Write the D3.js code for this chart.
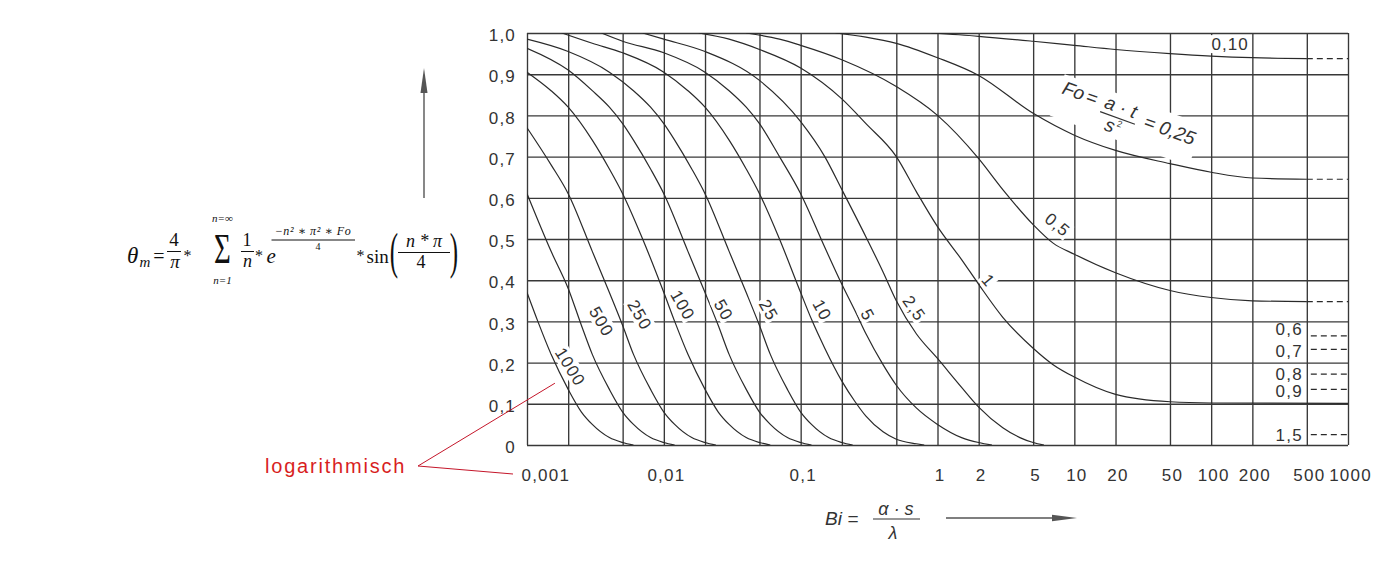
<!DOCTYPE html>
<html>
<head>
<meta charset="utf-8">
<title>Mittlere Temperatur</title>
<script src="https://cdn.jsdelivr.net/npm/d3@7/dist/d3.min.js"></script>
<style>
  body { margin: 0; background: #fff; }
  .lbl text { font-family: "Liberation Sans", Arial, sans-serif; font-size: 17px; fill: #333; letter-spacing: 1.2px; }
</style>
</head>
<body>
<div id="chart"></div>
<script>
const width = 1383;
const height = 572;
const sans = "'Liberation Sans', Arial, sans-serif";
const serif = "'Liberation Serif', 'DejaVu Serif', serif";

// Gitter und Achsenbeschriftung
const gridBi = [0.001, 0.002, 0.005, 0.01, 0.02, 0.05, 0.1, 0.2, 0.5, 1, 2, 5, 10, 20, 50, 100, 200, 500, 1000];
const gridTheta = [0, 0.1, 0.2, 0.3, 0.4, 0.5, 0.6, 0.7, 0.8, 0.9, 1];
const xTickValues = [0.001, 0.01, 0.1, 1, 2, 5, 10, 20, 50, 100, 200, 500, 1000];
const xTickLabels = ["0,001", "0,01", "0,1", "1", "2", "5", "10", "20", "50", "100", "200", "500", "1000"];
const yTickValues = [0, 0.1, 0.2, 0.3, 0.4, 0.5, 0.6, 0.7, 0.8, 0.9, 1];
const yTickLabels = ["0", "0,1", "0,2", "0,3", "0,4", "0,5", "0,6", "0,7", "0,8", "0,9", "1,0"];

// Kurven theta_m(Bi) fuer verschiedene Fo: [Bi, theta]
const curve1000 = [[0.001,0.37],[0.0012,0.30],[0.0015,0.22],[0.002,0.135],[0.0025,0.08],[0.003,0.05],[0.004,0.018],[0.005,0.006],[0.006,0]];
const curve500 = [[0.001,0.61],[0.0015,0.47],[0.002,0.38],[0.0025,0.29],[0.003,0.22],[0.004,0.135],[0.005,0.08],[0.006,0.05],[0.008,0.018],[0.01,0.006],[0.012,0]];
const curve250 = [[0.001,0.77],[0.0015,0.68],[0.002,0.61],[0.003,0.47],[0.004,0.37],[0.005,0.29],[0.006,0.22],[0.008,0.135],[0.01,0.08],[0.012,0.05],[0.016,0.018],[0.02,0.006],[0.024,0]];
const curve100 = [[0.001,0.905],[0.0015,0.86],[0.002,0.82],[0.003,0.74],[0.004,0.67],[0.005,0.61],[0.007,0.50],[0.01,0.37],[0.012,0.30],[0.015,0.22],[0.02,0.135],[0.025,0.08],[0.03,0.05],[0.04,0.018],[0.05,0.006],[0.06,0]];
const curve50 = [[0.001,0.963],[0.002,0.91],[0.003,0.86],[0.004,0.82],[0.005,0.78],[0.006,0.74],[0.008,0.67],[0.01,0.61],[0.015,0.47],[0.02,0.37],[0.025,0.29],[0.03,0.22],[0.04,0.135],[0.05,0.08],[0.06,0.05],[0.08,0.018],[0.1,0.006],[0.12,0]];
const curve25 = [[0.001,0.985],[0.002,0.955],[0.004,0.905],[0.006,0.86],[0.008,0.82],[0.01,0.78],[0.012,0.74],[0.016,0.67],[0.02,0.61],[0.03,0.47],[0.04,0.37],[0.05,0.29],[0.06,0.22],[0.08,0.135],[0.1,0.08],[0.12,0.05],[0.16,0.018],[0.2,0.006],[0.24,0]];
const curve10 = [[0.0018,1.0],[0.003,0.975],[0.005,0.952],[0.01,0.905],[0.015,0.86],[0.02,0.82],[0.03,0.74],[0.04,0.67],[0.05,0.61],[0.07,0.50],[0.1,0.37],[0.12,0.305],[0.15,0.235],[0.2,0.155],[0.25,0.105],[0.3,0.07],[0.4,0.032],[0.5,0.014],[0.7,0.003],[0.8,0]];
const curve5 = [[0.0035,1.0],[0.005,0.98],[0.01,0.952],[0.02,0.905],[0.03,0.86],[0.04,0.82],[0.05,0.78],[0.07,0.70],[0.1,0.61],[0.15,0.48],[0.2,0.39],[0.25,0.325],[0.3,0.27],[0.4,0.195],[0.5,0.145],[0.7,0.09],[1,0.05],[1.5,0.018],[2,0.006],[2.5,0]];
const curve2_5 = [[0.007,1.0],[0.01,0.985],[0.02,0.955],[0.05,0.885],[0.1,0.785],[0.15,0.70],[0.2,0.62],[0.3,0.505],[0.4,0.42],[0.5,0.35],[0.7,0.27],[1,0.21],[1.5,0.14],[2,0.092],[3,0.042],[4,0.018],[5,0.006],[6,0]];
const curve1 = [[0.018,1.0],[0.03,0.985],[0.05,0.96],[0.1,0.915],[0.2,0.84],[0.3,0.78],[0.5,0.70],[0.7,0.615],[1,0.53],[1.5,0.45],[2,0.39],[3,0.31],[5,0.235],[7,0.195],[10,0.165],[20,0.123],[50,0.105],[100,0.102],[1000,0.101]];
const curve0_5 = [[0.04,1.0],[0.07,0.985],[0.1,0.97],[0.2,0.935],[0.5,0.87],[1,0.80],[2,0.695],[3,0.62],[5,0.535],[7,0.49],[10,0.463],[20,0.418],[50,0.375],[100,0.358],[200,0.35],[500,0.348]];
const curve0_25 = [[0.18,1.0],[0.3,0.99],[0.5,0.975],[1,0.94],[2,0.897],[5,0.805],[10,0.752],[20,0.715],[50,0.683],[100,0.662],[200,0.648],[500,0.645]];
const curve0_10 = [[0.9,1.0],[2,0.992],[5,0.98],[10,0.97],[20,0.96],[50,0.95],[100,0.944],[200,0.94],[500,0.938]];

const foNames = ["1000", "500", "250", "100", "50", "25", "10", "5", "2,5", "1", "0,5", "0,25", "0,10"];
const foCurves = [curve1000, curve500, curve250, curve100, curve50, curve25, curve10, curve5, curve2_5, curve1, curve0_5, curve0_25, curve0_10];
// gestrichelte Fortsetzung bis Bi = 1000
const dashedNames = ["0,5", "0,25", "0,10"];

// Lage der Kurvenbeschriftung (null = eigene Beschriftung)
const labelBi = [0.00208, 0.00351, 0.00668, 0.0138, 0.0274, 0.0584, 0.144, 0.31, 0.679, 2.36, 7.55, null, 137.6];
const labelTheta = [0.19, 0.30, 0.316, 0.34, 0.328, 0.328, 0.328, 0.316, 0.332, 0.40, 0.535, null, 0.973];
const labelAngle = [58, 60, 60, 60, 60, 60, 62, 62, 55, 50, 40, null, 0];

// Grenzwerte fuer Bi -> unendlich (nur gestrichelt)
const limitNames = ["0,6", "0,7", "0,8", "0,9", "1,5"];
const limitValues = [0.265, 0.232, 0.172, 0.135, 0.025];
const limitLabelTheta = [0.281, 0.228, 0.172, 0.131, 0.025];

const svg = d3.select("#chart").append("svg")
    .attr("width", width)
    .attr("height", height)
    .style("display", "block");

const x = d3.scaleLog().domain([0.001, 1000]).range([527, 1348]);
const y = d3.scaleLinear().domain([0, 1]).range([445, 33]);
const plotW = x(1000) - x(0.001);
const plotH = y(0) - y(1);
const ink = "#2a2a2a";

// Gitter
svg.append("g")
    .attr("transform", `translate(0,${y(0)})`)
    .call(d3.axisBottom(x).tickValues(gridBi).tickSize(-plotH).tickFormat(""))
    .call(g => g.select(".domain").remove())
    .call(g => g.selectAll("line").attr("stroke", "#383838").attr("stroke-width", 1.35));

svg.append("g")
    .attr("transform", `translate(${x(0.001)},0)`)
    .call(d3.axisLeft(y).tickValues(gridTheta).tickSize(-plotW).tickFormat(""))
    .call(g => g.select(".domain").remove())
    .call(g => g.selectAll("line").attr("stroke", "#383838").attr("stroke-width", 1.35));

// Achsenbeschriftung
svg.append("g")
    .attr("class", "lbl")
    .attr("transform", `translate(0,${y(0)})`)
    .call(d3.axisBottom(x).tickValues(xTickValues).tickSize(0).tickPadding(24)
        .tickFormat((d, i) => xTickLabels[i]))
    .call(g => g.select(".domain").remove())
    .call(g => g.selectAll("text").attr("x", 2))
    .call(g => g.select(".tick text").attr("text-anchor", "start").attr("x", -6));

svg.append("g")
    .attr("class", "lbl")
    .attr("transform", `translate(${x(0.001)},0)`)
    .call(d3.axisLeft(y).tickValues(yTickValues).tickSize(0).tickPadding(11)
        .tickFormat((d, i) => yTickLabels[i]))
    .call(g => g.select(".domain").remove())
    .call(g => g.selectAll("text").attr("dy", "0.45em"));

// Kurven
svg.append("clipPath").attr("id", "plot")
    .append("rect").attr("x", x(0.001)).attr("y", y(1)).attr("width", plotW).attr("height", plotH);

const line = d3.line()
    .x(d => x(d[0]))
    .y(d => y(d[1]))
    .curve(d3.curveMonotoneX);

const curves = svg.append("g").attr("clip-path", "url(#plot)")
    .attr("fill", "none").attr("stroke", ink).attr("stroke-width", 1.2);

curves.selectAll("path.fo")
    .data(foCurves)
    .join("path")
    .attr("class", "fo")
    .attr("d", line);

// gestrichelte Asymptoten
const dashedEnds = dashedNames.map(n => {
    const c = foCurves[foNames.indexOf(n)];
    return c[c.length - 1];
});
curves.selectAll("line.dash")
    .data(dashedEnds)
    .join("line")
    .attr("class", "dash")
    .attr("x1", d => x(d[0])).attr("x2", x(1000))
    .attr("y1", d => y(d[1])).attr("y2", d => y(d[1]))
    .attr("stroke-dasharray", "6,4");

curves.selectAll("line.limit")
    .data(limitValues)
    .join("line")
    .attr("class", "limit")
    .attr("x1", x(500) + 4).attr("x2", x(1000))
    .attr("y1", d => y(d)).attr("y2", d => y(d))
    .attr("stroke-dasharray", "6,4");

svg.append("g")
    .attr("font-family", sans).attr("font-size", 17).attr("fill", "#333")
    .style("letter-spacing", "1.2px")
    .selectAll("text")
    .data(limitLabelTheta)
    .join("text")
    .attr("x", x(500) - 4)
    .attr("y", d => y(d) + 6)
    .attr("text-anchor", "end")
    .text((d, i) => limitNames[i]);

// Kurvenbeschriftungen mit weissem Hintergrund
const labels = svg.append("g")
    .attr("font-family", sans).attr("font-size", 17).attr("fill", "#333");

foNames.forEach((name, i) => {
    if (labelBi[i] == null) return;
    const g = labels.append("g")
        .attr("transform", `translate(${x(labelBi[i])},${y(labelTheta[i])}) rotate(${labelAngle[i]})`);
    const t = g.append("text")
        .attr("text-anchor", "middle")
        .attr("dy", "0.36em")
        .style("letter-spacing", "1px")
        .text(name);
    const b = t.node().getBBox();
    g.insert("rect", "text")
        .attr("x", b.x - 2).attr("y", -9)
        .attr("width", b.width + 3).attr("height", 18)
        .attr("fill", "#fff");
});

// Fo = a*t/s^2 = 0,25
const foG = svg.append("g")
    .attr("transform", `translate(${x(8.0)},${y(0.854)}) rotate(20)`);
const foIn = foG.append("g")
    .attr("font-family", sans).attr("font-size", 19).attr("font-style", "italic").attr("fill", "#333");
foIn.append("text").attr("x", 0).attr("y", 0).text("Fo");
foIn.append("text").attr("x", 25).attr("y", 0).text("=");
foIn.append("text").attr("x", 61).attr("y", -1).attr("text-anchor", "middle").text("a · t");
foIn.append("line").attr("x1", 43).attr("x2", 80).attr("y1", 4).attr("y2", 4)
    .attr("stroke", "#333").attr("stroke-width", 1.2);
foIn.append("text").attr("x", 57).attr("y", 20).attr("text-anchor", "middle").text("s");
foIn.append("text").attr("x", 63).attr("y", 12).attr("font-size", 9).attr("font-style", "normal").text("2");
foIn.append("text").attr("x", 88).attr("y", 4).text("= 0,25");
const fb = foIn.node().getBBox();
foG.insert("rect", "g")
    .attr("x", fb.x - 3).attr("y", fb.y - 1)
    .attr("width", fb.width + 6).attr("height", fb.height + 2)
    .attr("fill", "#fff");

// Pfeile
const arrowColor = "#555";
svg.append("line").attr("x1", 424).attr("x2", 424).attr("y1", 198).attr("y2", 90)
    .attr("stroke", arrowColor).attr("stroke-width", 1.4);
svg.append("path").attr("d", "M424,68 L420.5,93 L427.5,93 Z").attr("fill", arrowColor);
svg.append("line").attr("x1", 946).attr("x2", 1055).attr("y1", 518).attr("y2", 518)
    .attr("stroke", arrowColor).attr("stroke-width", 1.4);
svg.append("path").attr("d", "M1077,518 L1052,514.8 L1052,521.2 Z").attr("fill", arrowColor);

// Bi = alpha*s/lambda
const bi = svg.append("g").attr("font-family", sans).attr("fill", "#333").attr("font-style", "italic");
bi.append("text").attr("x", 825).attr("y", 525).attr("font-size", 19).text("Bi =");
bi.append("text").attr("x", 896).attr("y", 515).attr("font-size", 18).attr("text-anchor", "middle").text("α · s");
bi.append("line").attr("x1", 873).attr("x2", 920).attr("y1", 519).attr("y2", 519)
    .attr("stroke", "#333").attr("stroke-width", 1.1);
bi.append("text").attr("x", 893).attr("y", 539).attr("font-size", 18).attr("text-anchor", "middle").text("λ");

// rote Anmerkung
const red = "#d81e1e";
svg.append("text").attr("x", 265).attr("y", 473)
    .attr("font-family", sans).attr("font-size", 20).attr("fill", red)
    .style("letter-spacing", "1.8px").text("logarithmisch");
svg.append("path")
    .attr("d", `M${x(0.0016)},${y(0.15)} L418,466 L${x(0.001) - 14},474`)
    .attr("fill", "none").attr("stroke", "#c4162a").attr("stroke-width", 1);

// Formel
const f = svg.append("g").attr("font-family", serif).attr("fill", "#111");
function mt(px, py, s, size, italic, anchor) {
    return f.append("text").attr("x", px).attr("y", py)
        .attr("font-size", size)
        .attr("font-style", italic ? "italic" : "normal")
        .attr("text-anchor", anchor || "middle")
        .text(s);
}
function bar(x1, x2, py) {
    f.append("line").attr("x1", x1).attr("x2", x2).attr("y1", py).attr("y2", py)
        .attr("stroke", "#111").attr("stroke-width", 1);
}
mt(127, 263, "θ", 23, true, "start");
mt(139.5, 267, "m", 15, true, "start");
mt(159, 263, "=", 20, false);
mt(174, 246, "4", 19, false);
bar(167, 181, 251.5);
mt(175, 268, "π", 19, true);
mt(187.5, 261, "*", 16, false);
mt(222.5, 222, "n=∞", 11, true);
f.append("text").attr("transform", "translate(222.5,263) scale(0.85,1.25)")
    .attr("font-size", 34).attr("text-anchor", "middle").text("Σ");
mt(222.5, 284, "n=1", 11, true);
mt(247, 246, "1", 18, false);
bar(241, 254, 251.5);
mt(247.5, 266.5, "n", 18, true);
mt(259, 261, "*", 16, false);
mt(266.5, 263, "e", 21, true, "start");
mt(313, 235, "−n² ∗ π² ∗ Fo", 12, true).style("letter-spacing", "0.6px");
bar(271.5, 355, 240);
mt(318, 250, "4", 10, false);
mt(360.5, 261, "*", 16, false);
mt(366.5, 263, "sin", 19, false, "start");
f.append("text").attr("transform", "translate(394,268) scale(0.5,1)")
    .attr("font-size", 50).attr("text-anchor", "middle").text("(");
mt(424, 247, "n * π", 18, true);
bar(398, 450, 252.5);
mt(421, 268, "4", 18, false);
f.append("text").attr("transform", "translate(454,268) scale(0.5,1)")
    .attr("font-size", 50).attr("text-anchor", "middle").text(")");
</script>
</body>
</html>
